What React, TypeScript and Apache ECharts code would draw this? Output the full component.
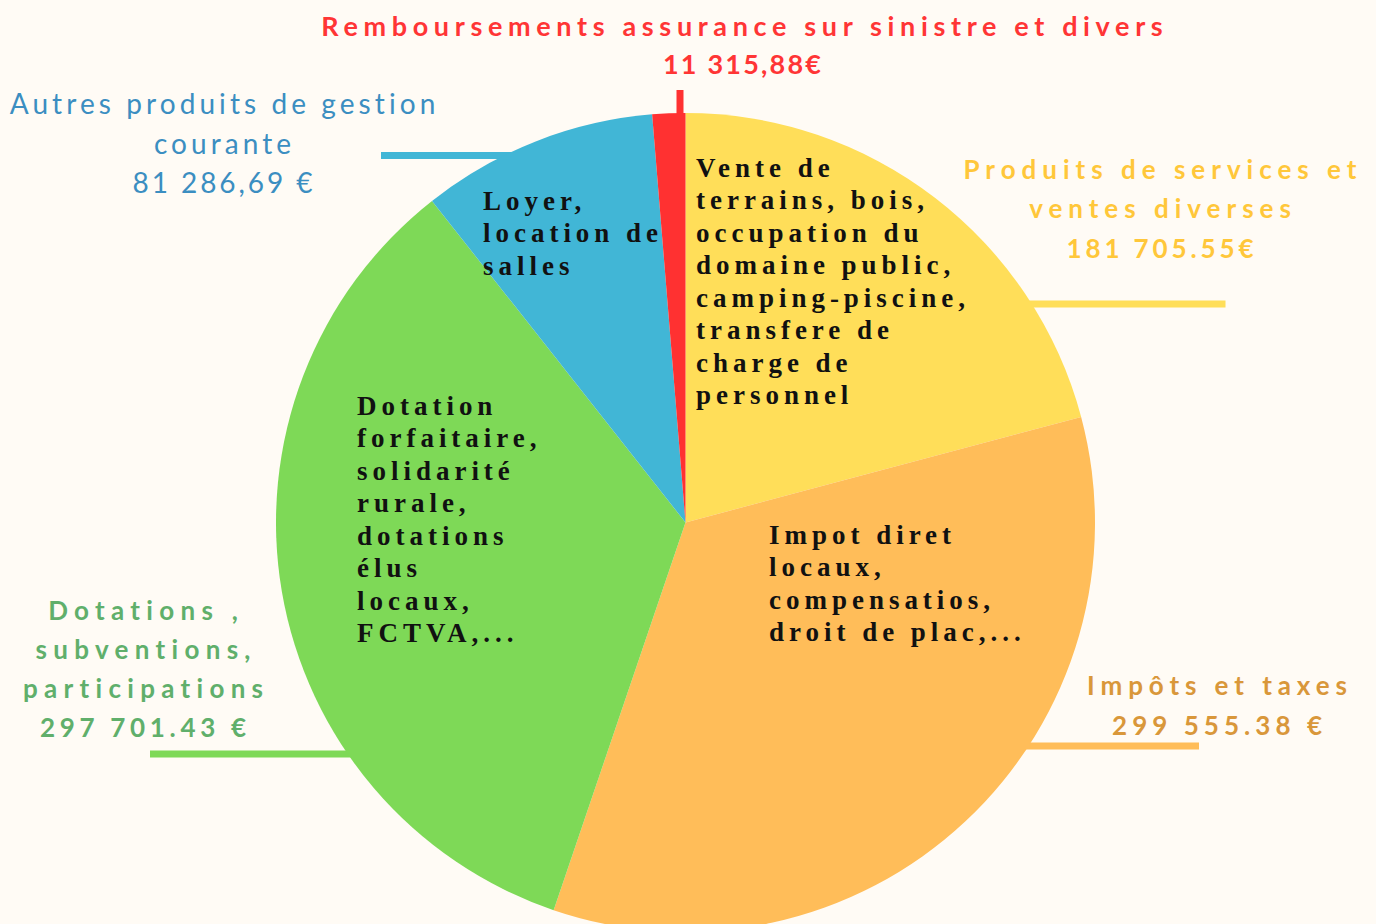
import React, { useEffect, useRef } from "react";
import * as echarts from "echarts";

// ---- data ----
const categories = [
  "Produits de services et ventes diverses",
  "Impôts et taxes",
  "Dotations , subventions, participations",
  "Autres produits de gestion courante",
  "Remboursements assurance sur sinistre et divers",
];
const values = [181705.55, 299555.38, 297701.43, 81286.69, 11315.88];
const valueLabels = ["181 705.55€", "299 555.38 €", "297 701.43 €", "81 286,69 €", "11 315,88€"];
const titleLines = [
  ["Produits de services et", "ventes diverses"],
  ["Impôts et taxes"],
  ["Dotations ,", "subventions,", "participations"],
  ["Autres produits de gestion", "courante"],
  ["Remboursements assurance sur sinistre et divers"],
];
const detailLines = [
  ["Vente de", "terrains, bois,", "occupation du", "domaine public,", "camping-piscine,", "transfere de", "charge de", "personnel"],
  ["Impot diret", "locaux,", "compensatios,", "droit de plac,..."],
  ["Dotation", "forfaitaire,", "solidarité", "rurale,", "dotations", "élus", "locaux,", "FCTVA,..."],
  ["Loyer,", "location de", "salles"],
  [],
];

// ---- styles / layout ----
const sliceColors = ["#FFDE59", "#FFBD59", "#7ED957", "#41B6D6", "#FF3131"];
const textColors = ["#FFC73A", "#D9973A", "#60AF6B", "#3B8EC1", "#FF3535"];
const BG = "#FFFBF5";
const CENTER = [685.5, 522.5];
const RADIUS = 409.5;

const outerLayout = [
  { x: 1160, y0: 169, gap: 39.3, font: 'bold 26px Lato', ref: 0, target: 393, valueTarget: 187 },
  { x: 1217, y0: 685, gap: 39.5, font: 'bold 26px Lato', ref: 0, target: 260, valueTarget: 210 },
  { x: 143, y0: 609.5, gap: 39.3, font: 'bold 26px Lato', ref: 2, target: 241, valueTarget: 206 },
  { x: 222.5, y0: 103, gap: 39.5, font: '28px Lato', ref: 0, target: 426, valueTarget: 180 },
  { x: 742, y0: 25.5, gap: 38, font: 'bold 27px Lato', ref: 0, target: 842, valueTarget: 158 },
];
const innerLayout = [
  { x: 696, y0: 168 },
  { x: 769, y0: 535 },
  { x: 357, y0: 406 },
  { x: 483, y0: 201 },
  { x: 0, y0: 0 },
];
const INNER_FONT = 'bold 27px "Liberation Serif"';
const INNER_GAP = 32.45;
const INNER_REF = "camping-piscine,";
const INNER_TARGET = 269;

const leaderLines = [
  { x1: 1000, y1: 304, x2: 1225.5, y2: 304 },
  { x1: 1000, y1: 746, x2: 1199, y2: 746 },
  { x1: 150, y1: 754, x2: 420, y2: 754 },
  { x1: 381, y1: 155.5, x2: 560, y2: 155.5 },
  { x1: 680, y1: 90, x2: 680, y2: 140 },
];

function measure(font: string, text: string) {
  const c = document.createElement("canvas").getContext("2d")!;
  c.font = font;
  return c.measureText(text).width;
}
function fit(font: string, text: string, target: number) {
  return (target - measure(font, text)) / Math.max(1, text.length - 1);
}

export default function App() {
  const ref = useRef<HTMLDivElement>(null);
  useEffect(() => {
    if (!ref.current) return;
    const chart = echarts.init(ref.current, null, { renderer: "svg" });
    const spacing = new Map<string, number>();
    const elements: any[] = [];

    leaderLines.forEach((l, i) => {
      elements.push({
        type: "line",
        z: 0,
        silent: true,
        shape: { x1: l.x1, y1: l.y1, x2: l.x2, y2: l.y2 },
        style: { stroke: sliceColors[i], lineWidth: 7 },
      });
    });

    outerLayout.forEach((g, i) => {
      const lines = titleLines[i].concat([valueLabels[i]]);
      const titleLs = fit(g.font, titleLines[i][g.ref], g.target);
      const valueLs = fit(g.font, valueLabels[i], g.valueTarget);
      lines.forEach((t, j) => {
        const ls = j === lines.length - 1 ? valueLs : titleLs;
        spacing.set(t, ls);
        elements.push({
          type: "text",
          z: 100,
          silent: true,
          x: g.x + ls / 2,
          y: g.y0 + j * g.gap,
          style: {
            text: t,
            font: g.font,
            fill: textColors[i],
            textAlign: "center",
            textVerticalAlign: "middle",
          },
        });
      });
    });

    const innerLs = fit(INNER_FONT, INNER_REF, INNER_TARGET);
    detailLines.forEach((lines, i) => {
      const g = innerLayout[i];
      lines.forEach((t, j) => {
        spacing.set(t, innerLs);
        elements.push({
          type: "text",
          z: 100,
          silent: true,
          x: g.x,
          y: g.y0 + j * INNER_GAP,
          style: {
            text: t,
            font: INNER_FONT,
            fill: "#111111",
            textAlign: "left",
            textVerticalAlign: "middle",
          },
        });
      });
    });

    chart.setOption({
      animation: false,
      backgroundColor: BG,
      graphic: { elements },
      series: [
        {
          type: "pie",
          center: CENTER,
          radius: RADIUS,
          startAngle: 90,
          clockwise: true,
          silent: true,
          label: { show: false },
          labelLine: { show: false },
          emphasis: { disabled: true },
          data: categories.map((name, i) => ({
            name,
            value: values[i],
            itemStyle: { color: sliceColors[i] },
          })),
        },
      ],
    });

    const apply = () => {
      ref.current?.querySelectorAll("text").forEach((t) => {
        const ls = spacing.get(t.textContent || "");
        if (ls != null) {
          t.setAttribute("letter-spacing", ls + "px");
          (t as any).style.letterSpacing = ls + "px";
        }
      });
    };
    apply();
    chart.on("finished", apply);
    const raf = requestAnimationFrame(apply);
    const to = setTimeout(apply, 100);

    return () => {
      cancelAnimationFrame(raf);
      clearTimeout(to);
      chart.dispose();
    };
  }, []);
  return (
    <div
      ref={ref}
      style={{ position: "absolute", left: 0, top: 0, width: 1376, height: 924, background: BG }}
    />
  );
}
